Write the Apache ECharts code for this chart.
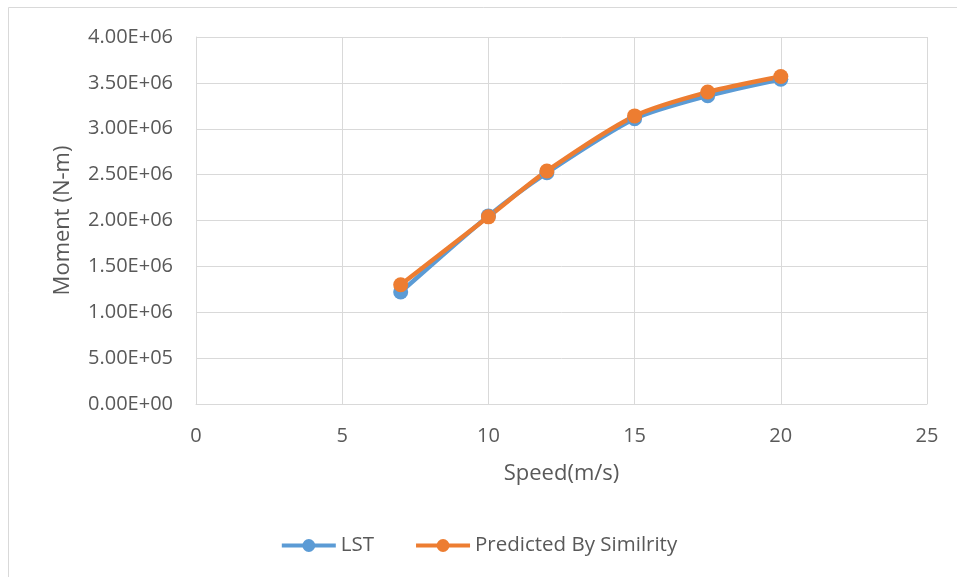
<!DOCTYPE html>
<html>
<head>
<meta charset="utf-8">
<script src="https://cdn.jsdelivr.net/npm/echarts@6/dist/echarts.min.js"></script>
<style>
  html, body { margin: 0; padding: 0; background: #fff; }
  #chart { width: 957px; height: 577px; }
</style>
</head>
<body>
<div id="chart"></div>
<script>
// Wind speed (m/s) and bending moment (N-m)
const speeds = [7, 10, 12, 15, 17.5, 20];
const lstMoment = [1.22e6, 2.05e6, 2.52e6, 3.11e6, 3.36e6, 3.54e6];
const predictedMoment = [1.30e6, 2.04e6, 2.54e6, 3.14e6, 3.40e6, 3.57e6];
const seriesNames = ['LST', 'Predicted By Similrity'];

const FONT = '"Open Sans", "Liberation Sans", sans-serif';
const TEXT = '#595959';

function fmtSci(v) {
  if (v === 0) return '0.00E+00';
  const e = Math.floor(Math.log10(Math.abs(v)));
  const m = v / Math.pow(10, e);
  const es = (e < 0 ? '-' : '+') + String(Math.abs(e)).padStart(2, '0');
  return m.toFixed(2) + 'E' + es;
}

const chart = echarts.init(document.getElementById('chart'), null, { renderer: 'canvas' });

const pairs = (xs, ys) => xs.map((x, i) => [x, ys[i]]);

chart.setOption({
  backgroundColor: '#fff',
  animation: false,
  graphic: [{
    type: 'rect',
    shape: { x: 8.5, y: 7.5, width: 960, height: 580 },
    style: { fill: 'none', stroke: '#d9d9d9', lineWidth: 1 },
    silent: true
  }],
  grid: { left: 196, right: 30, top: 37, bottom: 173, show: false },
  legend: {
    bottom: 16,
    left: 'center',
    itemWidth: 54,
    itemHeight: 16,
    itemGap: 40,
    lineStyle: { width: 4 },
    textStyle: { fontFamily: FONT, fontSize: 20.5, color: TEXT },
    data: seriesNames
  },
  xAxis: {
    type: 'value',
    min: 0, max: 25, interval: 5,
    name: 'Speed(m/s)',
    nameLocation: 'middle',
    nameGap: 59,
    nameTextStyle: { fontFamily: FONT, fontSize: 22, color: TEXT },
    axisLine: { show: true, lineStyle: { color: '#d9d9d9', width: 1 } },
    axisTick: { show: false },
    axisLabel: { fontFamily: FONT, fontSize: 20, color: TEXT, margin: 22 },
    splitLine: { show: true, lineStyle: { color: '#d9d9d9', width: 1 } }
  },
  yAxis: {
    type: 'value',
    min: 0, max: 4e6, interval: 5e5,
    name: 'Moment (N-m)',
    nameLocation: 'middle',
    nameGap: 122,
    nameRotate: 90,
    nameTextStyle: { fontFamily: FONT, fontSize: 22, color: TEXT },
    axisLine: { show: true, lineStyle: { color: '#d9d9d9', width: 1 } },
    axisTick: { show: false },
    axisLabel: { fontFamily: FONT, fontSize: 20, color: TEXT, margin: 23, formatter: fmtSci },
    splitLine: { show: true, lineStyle: { color: '#d9d9d9', width: 1 } }
  },
  series: [
    {
      name: seriesNames[0],
      type: 'line',
      data: pairs(speeds, lstMoment),
      smooth: 0.25,
      symbol: 'circle',
      symbolSize: 15,
      itemStyle: { color: '#5b9bd5' },
      lineStyle: { color: '#5b9bd5', width: 4.5 }
    },
    {
      name: seriesNames[1],
      type: 'line',
      data: pairs(speeds, predictedMoment),
      smooth: 0.25,
      symbol: 'circle',
      symbolSize: 15,
      itemStyle: { color: '#ed7d31' },
      lineStyle: { color: '#ed7d31', width: 4.5 }
    }
  ]
});
</script>
</body>
</html>
